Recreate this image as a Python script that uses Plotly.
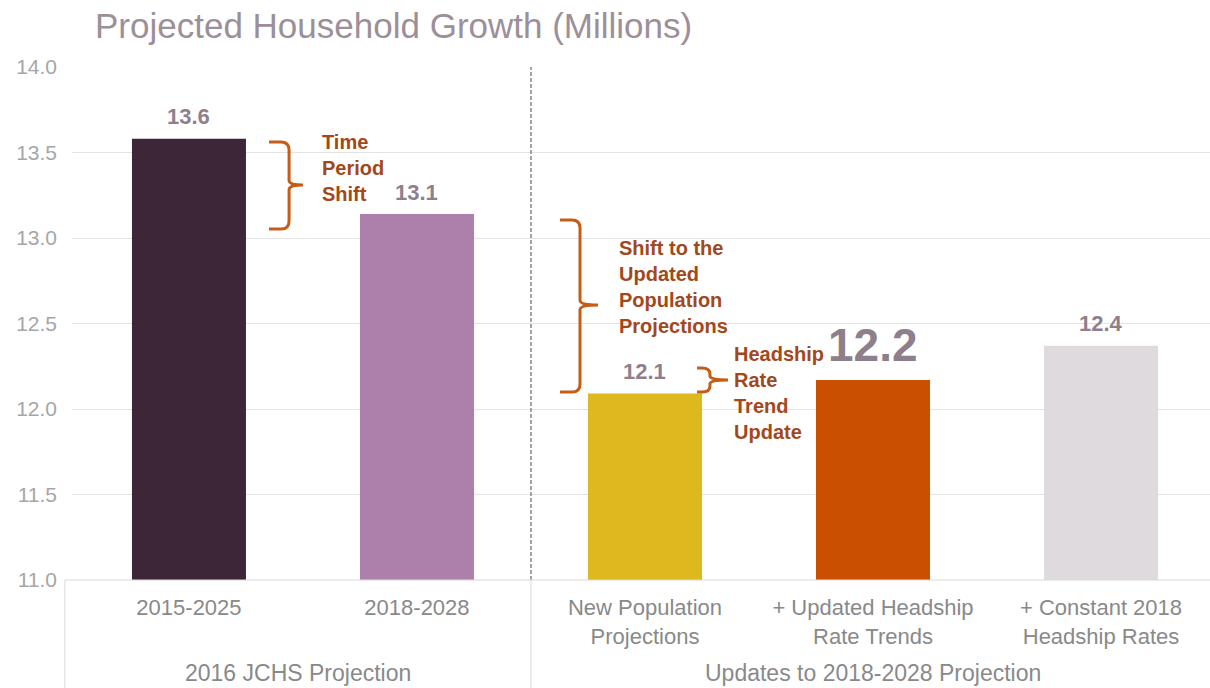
import plotly.graph_objects as go

# Household growth projections, millions
periods = [
    "2015-2025",
    "2018-2028",
    "New Population<br>Projections",
    "+ Updated Headship<br>Rate Trends",
    "+ Constant 2018<br>Headship Rates",
]
growth = [13.58, 13.14, 12.09, 12.17, 12.37]
groups = ["2016 JCHS Projection", "Updates to 2018-2028 Projection"]
y_ticks = [11.0, 11.5, 12.0, 12.5, 13.0, 13.5, 14.0]

bar_colors = ["#3e2639", "#ad7fab", "#ddb81e", "#c95000", "#dedadd"]
highlight = 3  # bar whose value label is emphasised

BRACKET = "#c65d16"
NOTE = "#a2481a"
VALUE = "#8e7f8c"
AXIS_TXT = "#898989"
FONT = "Liberation Sans, Arial, sans-serif"

x_idx = list(range(len(periods)))

fig = go.Figure(
    go.Bar(
        x=x_idx,
        y=growth,
        width=0.5,
        marker=dict(color=bar_colors, line=dict(width=0)),
        hoverinfo="skip",
    )
)

# value labels above each bar
for i, v in enumerate(growth):
    big = i == highlight
    fig.add_annotation(
        x=i, y=v, xref="x", yref="y",
        text=f"<b>{v:.1f}</b>",
        showarrow=False, yanchor="middle",
        yshift=35 if big else 22,
        font=dict(family=FONT, size=46 if big else 22, color=VALUE),
    )


def bracket(xl, xs, xt, yt, yb, ym, rx=0.035, ry=0.047):
    """Right-facing curly bracket drawn in data coordinates."""
    return (
        f"M{xl},{yt} L{xs - rx},{yt} Q{xs},{yt} {xs},{yt - ry} "
        f"L{xs},{ym + ry * 0.6} Q{xs},{ym} {xt},{ym} "
        f"Q{xs},{ym} {xs},{ym - ry * 0.6} "
        f"L{xs},{yb + ry} Q{xs},{yb} {xs - rx},{yb} L{xl},{yb}"
    )


brackets = [
    (0.351, 0.439, 0.500, 13.561, 13.053, 13.310),
    (1.627, 1.715, 1.794, 13.105, 12.099, 12.608),
    (2.228, 2.285, 2.364, 12.240, 12.099, 12.170),
]
for b in brackets:
    fig.add_shape(
        type="path", xref="x", yref="y",
        path=bracket(*b, ry=min(0.047, (b[3] - b[4]) / 4)),
        line=dict(color=BRACKET, width=3),
    )

notes = [
    (0.575, 13.41, "Time<br>Period<br>Shift"),
    (1.877, 12.711, "Shift to the<br>Updated<br>Population<br>Projections"),
    (2.382, 12.094, "Headship<br>Rate<br>Trend<br>Update"),
]
for x, y, t in notes:
    fig.add_annotation(
        x=x, y=y, xref="x", yref="y", text=f"<b>{t}</b>",
        showarrow=False, xanchor="left", yanchor="middle", align="left",
        font=dict(family=FONT, size=20, color=NOTE),
    )

# dashed divider between the two projection groups
fig.add_shape(
    type="line", xref="x", yref="paper", x0=1.5, x1=1.5, y0=0, y1=1,
    line=dict(color="#a3a3a3", width=2, dash="4px,2px"),
)

# category-group frame below the axis
x_lo, x_hi = -0.513, 4.478
sep_paper = [(-0.544 - x_lo) / (x_hi - x_lo), (1.5 - x_lo) / (x_hi - x_lo)]
for xp in sep_paper:
    fig.add_shape(
        type="line", xref="paper", yref="paper", x0=xp, x1=xp, y0=0, y1=-0.22,
        line=dict(color="#d9d9d9", width=1),
    )
fig.add_shape(
    type="line", xref="paper", yref="paper", x0=sep_paper[0], x1=1, y0=0, y1=0,
    line=dict(color="#d9d9d9", width=1),
)

edges = [-0.544, 1.5, 4.5]
for gi, g in enumerate(groups):
    cx = (edges[gi] + edges[gi + 1]) / 2
    fig.add_annotation(
        x=(cx - x_lo) / (x_hi - x_lo), y=-0.1813, xref="paper", yref="paper",
        text=g, showarrow=False, xanchor="center", yanchor="middle",
        font=dict(family=FONT, size=23, color=AXIS_TXT),
    )

fig.update_layout(
    width=1210, height=688,
    margin=dict(l=72, r=0, t=67, b=108),
    paper_bgcolor="white", plot_bgcolor="white",
    showlegend=False,
    title=dict(
        text="Projected Household Growth (Millions)",
        x=95 / 1210, xanchor="left", xref="container",
        y=1 - 26 / 688, yanchor="middle", yref="container",
        font=dict(family=FONT, size=35, color="#9d8f99"),
    ),
    xaxis=dict(
        range=[x_lo, x_hi], tickvals=x_idx, ticktext=periods,
        showgrid=False, zeroline=False, showline=False, ticks="",
        ticklabelstandoff=12,
        tickfont=dict(family=FONT, size=22, color=AXIS_TXT),
    ),
    yaxis=dict(
        range=[11, 14], tickvals=y_ticks, tickformat=".1f",
        showgrid=True, gridcolor="#e3e3e3", gridwidth=1,
        zeroline=False, showline=False, ticks="",
        ticklabelstandoff=14,
        tickfont=dict(family=FONT, size=21, color="#a6a6a6"),
    ),
)

fig.write_html("out.html")
